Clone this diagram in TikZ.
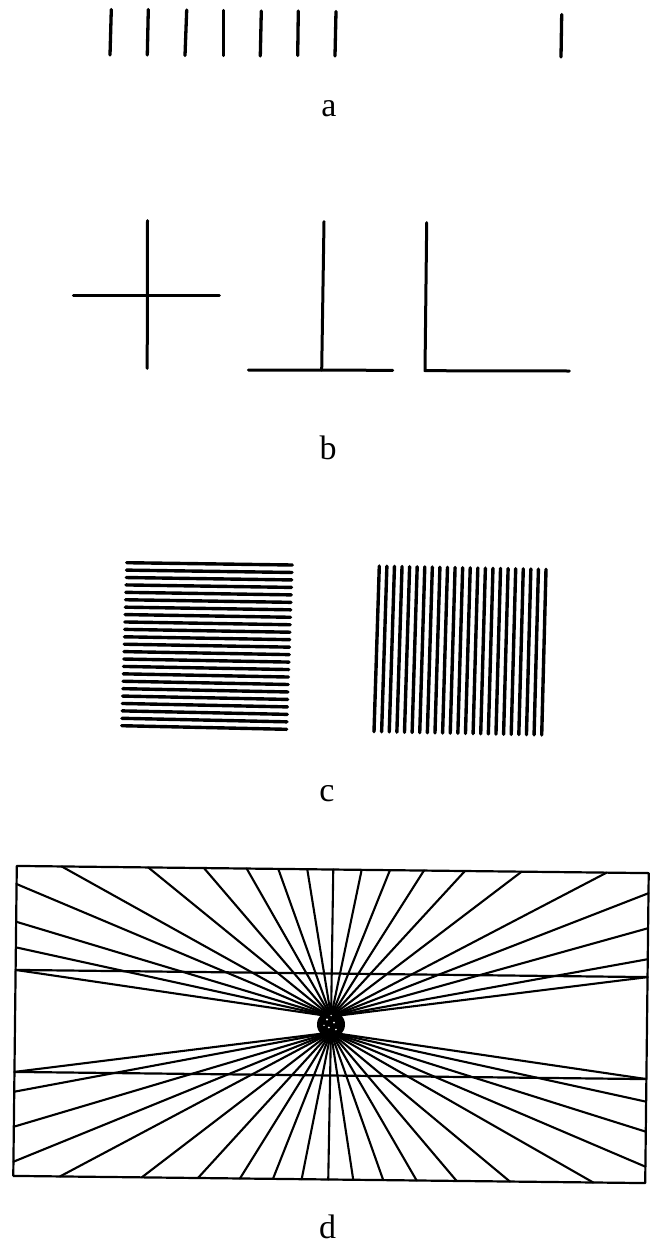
\documentclass[tikz,border=0pt]{standalone}
\usepackage{fontspec}
\setmainfont{Liberation Serif}
\begin{document}
\begin{tikzpicture}[x=1pt,y=-1pt,line cap=round,line join=round]
\tikzset{
  bartick/.style={line width=3.3pt},
  figline/.style={line width=3pt},
  hatchline/.style={line width=3.4pt},
  frameline/.style={line width=2.2pt},
  rayline/.style={line width=2.1pt},
  lbl/.style={font=\fontsize{34}{34}\selectfont, inner sep=0pt, anchor=base}
}
\useasboundingbox (0,0) rectangle (655,1245);
\fill[white] (0,0) rectangle (655,1245);

% ---------- panel a ----------
\foreach \tx/\ty/\bx/\by in {111.3/9.5/110/55, 148.3/9.5/147.3/55, 186.7/10/185/55.5,
  223.3/10.5/223.3/55.5, 261.3/11/260.3/56, 298.3/11/297.7/55.5, 336/11.5/335/56,
  561.7/14.5/561/57}{
  \draw[bartick] (\tx,\ty) -- (\bx,\by);
}
\node[lbl] (la) at (329,116.7) {a};

% ---------- panel b ----------
\draw[figline] (147.5,220.7) -- (147.2,368.3);
\draw[figline] (73.3,295.3) -- (219.3,295.3);
\draw[figline] (324,221.7) -- (321.7,370);
\draw[figline] (248.3,370) -- (392.7,370.3);
\draw[figline] (426.7,222.7) -- (425,370.7) -- (569.3,371);
\node[lbl] (lb) at (328,459.3) {b};

% ---------- panel c ----------
\foreach \i in {0,...,22}{
  \pgfmathsetmacro\lx{126.7-5*\i/22}
  \pgfmathsetmacro\ly{562.7+163*\i/22}
  \pgfmathsetmacro\rx{292.3-5.6*\i/22}
  \pgfmathsetmacro\ry{565+164.3*\i/22}
  \draw[hatchline] (\lx,\ly) -- (\rx,\ry);
}
\foreach \i in {0,...,22}{
  \pgfmathsetmacro\tx{379.3+166.7*\i/22}
  \pgfmathsetmacro\ty{566+3.3*\i/22}
  \pgfmathsetmacro\bx{374+167.7*\i/22}
  \pgfmathsetmacro\by{731.7+3.3*\i/22}
  \draw[hatchline] (\tx,\ty) -- (\bx,\by);
}
\node[lbl] (lc) at (327,801.7) {c};

% ---------- panel d ----------
\begin{scope}[shift={(331,1024.5)},rotate=-0.65]
  \coordinate (U) at (0,-8);
  \coordinate (L) at (0,8);
  \draw[frameline] (-316,-155) -- (316,-155) -- (316,155) -- (-316,155) -- cycle;
  \draw[frameline] (-316,-51) -- (316,-51);
  \draw[frameline] (-316,51) -- (316,51);
  % upper fan
  \foreach \u in {-271.1,-184.5,-128.8,-86.1,-54.5,-25.5,0.5,28.9,57.2,91.2,132.2,188.9,273.9}
    \draw[rayline] (U) -- (\u,-155);
  \foreach \v in {-136.9,-99.2,-73.6,-51}
    \draw[rayline] (U) -- (-316,\v);
  \foreach \v in {-134.9,-99.9,-68.9,-51}
    \draw[rayline] (U) -- (316,\v);
  % lower fan
  \foreach \u in {-269.3,-187.5,-131.3,-89.3,-56.3,-27.6,-1,24,54,87.4,127.4,180.7,264}
    \draw[rayline] (L) -- (\u,155);
  \foreach \v in {140.8,105.8,70.8,51}
    \draw[rayline] (L) -- (-316,\v);
  \foreach \v in {138.6,103.6,73.6,51}
    \draw[rayline] (L) -- (316,\v);
  % dense centre
  \fill (0,0) ellipse [x radius=14, y radius=14];
  \fill[white] (-4,-5) circle (1.1) (3,-2) circle (1) (-2,3) circle (1) (5,5) circle (0.9) (0,-9) circle (0.8) (-7,1) circle (0.8);
\end{scope}
\node[lbl] (ld) at (327.5,1238.5) {d};
\end{tikzpicture}
\end{document}
